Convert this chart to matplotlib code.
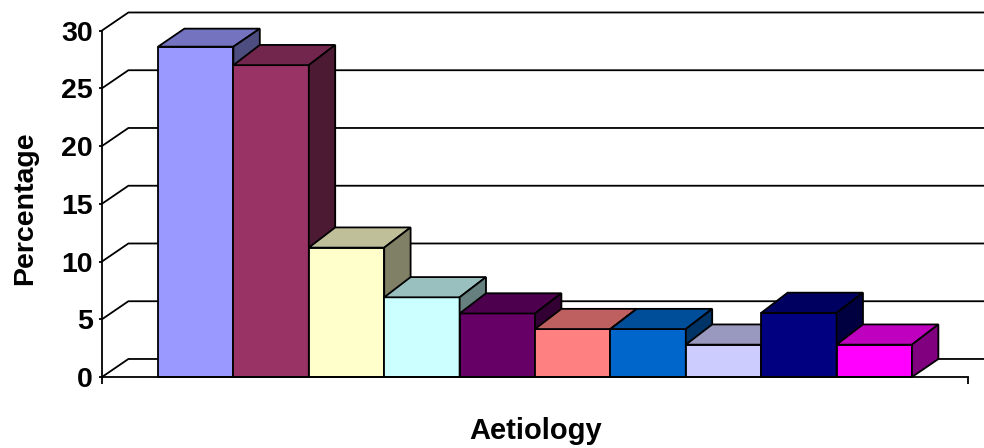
import matplotlib
matplotlib.use('Agg')
import matplotlib.pyplot as plt
from matplotlib.colors import to_rgb
from matplotlib.patches import Polygon

plt.rcParams['font.family'] = ['Liberation Sans', 'DejaVu Sans']
plt.rcParams['font.weight'] = 'bold'

values = [28.6, 27.0, 11.2, 6.9, 5.5, 4.15, 4.15, 2.8, 5.55, 2.8]
colors = ['#9999FF', '#993366', '#FFFFCC', '#CCFFFF', '#660066',
          '#FF8080', '#0066CC', '#CCCCFF', '#000080', '#FF00FF']
y_ticks = [0, 5, 10, 15, 20, 25, 30]

# depth of the fake 3D box, in data units
depth_x = 0.35
depth_y = 1.56
# the first bar has a slightly shallower top
top_depths = [1.56, 1.75, 1.75, 1.75, 1.75, 1.75, 1.75, 1.75, 1.75, 1.75]
gap = 0.743
line_w = 1.3


def shade(color, k):
    return tuple(c * k for c in to_rgb(color))


fig = plt.figure(figsize=(9.84, 4.48), dpi=100)
ax = fig.add_axes([102 / 984, (448 - 377) / 448, 866 / 984, 346.5 / 448])
x_min = -0.5 - gap
x_max = len(values) - 0.5 + gap
ax.set_xlim(x_min, x_max)
ax.set_ylim(0, 30)

# back wall and left wall gridlines
for y in y_ticks:
    ax.plot([x_min, x_min + depth_x, x_max + depth_x],
            [y, y + depth_y, y + depth_y],
            color='black', lw=line_w, clip_on=False, zorder=1,
            solid_joinstyle='miter')

for i, (v, c) in enumerate(zip(values, colors)):
    z = 2 + i
    left = i - 0.5
    right = i + 0.5
    d = top_depths[i]
    ax.bar(i, v, width=1, color=c, edgecolor='black', linewidth=line_w,
           zorder=z, clip_on=False)
    top = [(left, v), (right, v), (right + depth_x, v + d),
           (left + depth_x, v + d)]
    side = [(right, 0), (right, v), (right + depth_x, v + d),
            (right + depth_x, depth_y)]
    ax.add_patch(Polygon(top, closed=True, facecolor=shade(c, 0.75),
                         edgecolor='black', linewidth=line_w, zorder=z,
                         clip_on=False))
    ax.add_patch(Polygon(side, closed=True, facecolor=shade(c, 0.5),
                         edgecolor='black', linewidth=line_w, zorder=z,
                         clip_on=False))

ax.patch.set_visible(False)
ax.spines['top'].set_visible(False)
ax.spines['right'].set_visible(False)
ax.spines['left'].set_linewidth(line_w)
ax.spines['bottom'].set_linewidth(line_w)
ax.spines['left'].set_zorder(20)
ax.spines['bottom'].set_zorder(20)

ax.set_yticks(y_ticks)
ax.set_xticks([x_min, x_max])
ax.set_xticklabels([])
ax.tick_params(axis='y', length=2.5, width=line_w, labelsize=20.5, pad=4)
ax.tick_params(axis='x', length=5, width=line_w)

fig.text(25.5 / 984, 1 - 208.5 / 448, 'Percentage', rotation=90, fontsize=20.5,
         ha='center', va='center')
fig.text(536 / 984, 1 - 430.5 / 448, 'Aetiology', fontsize=21,
         ha='center', va='center')

fig.savefig('out.png', dpi=100)
